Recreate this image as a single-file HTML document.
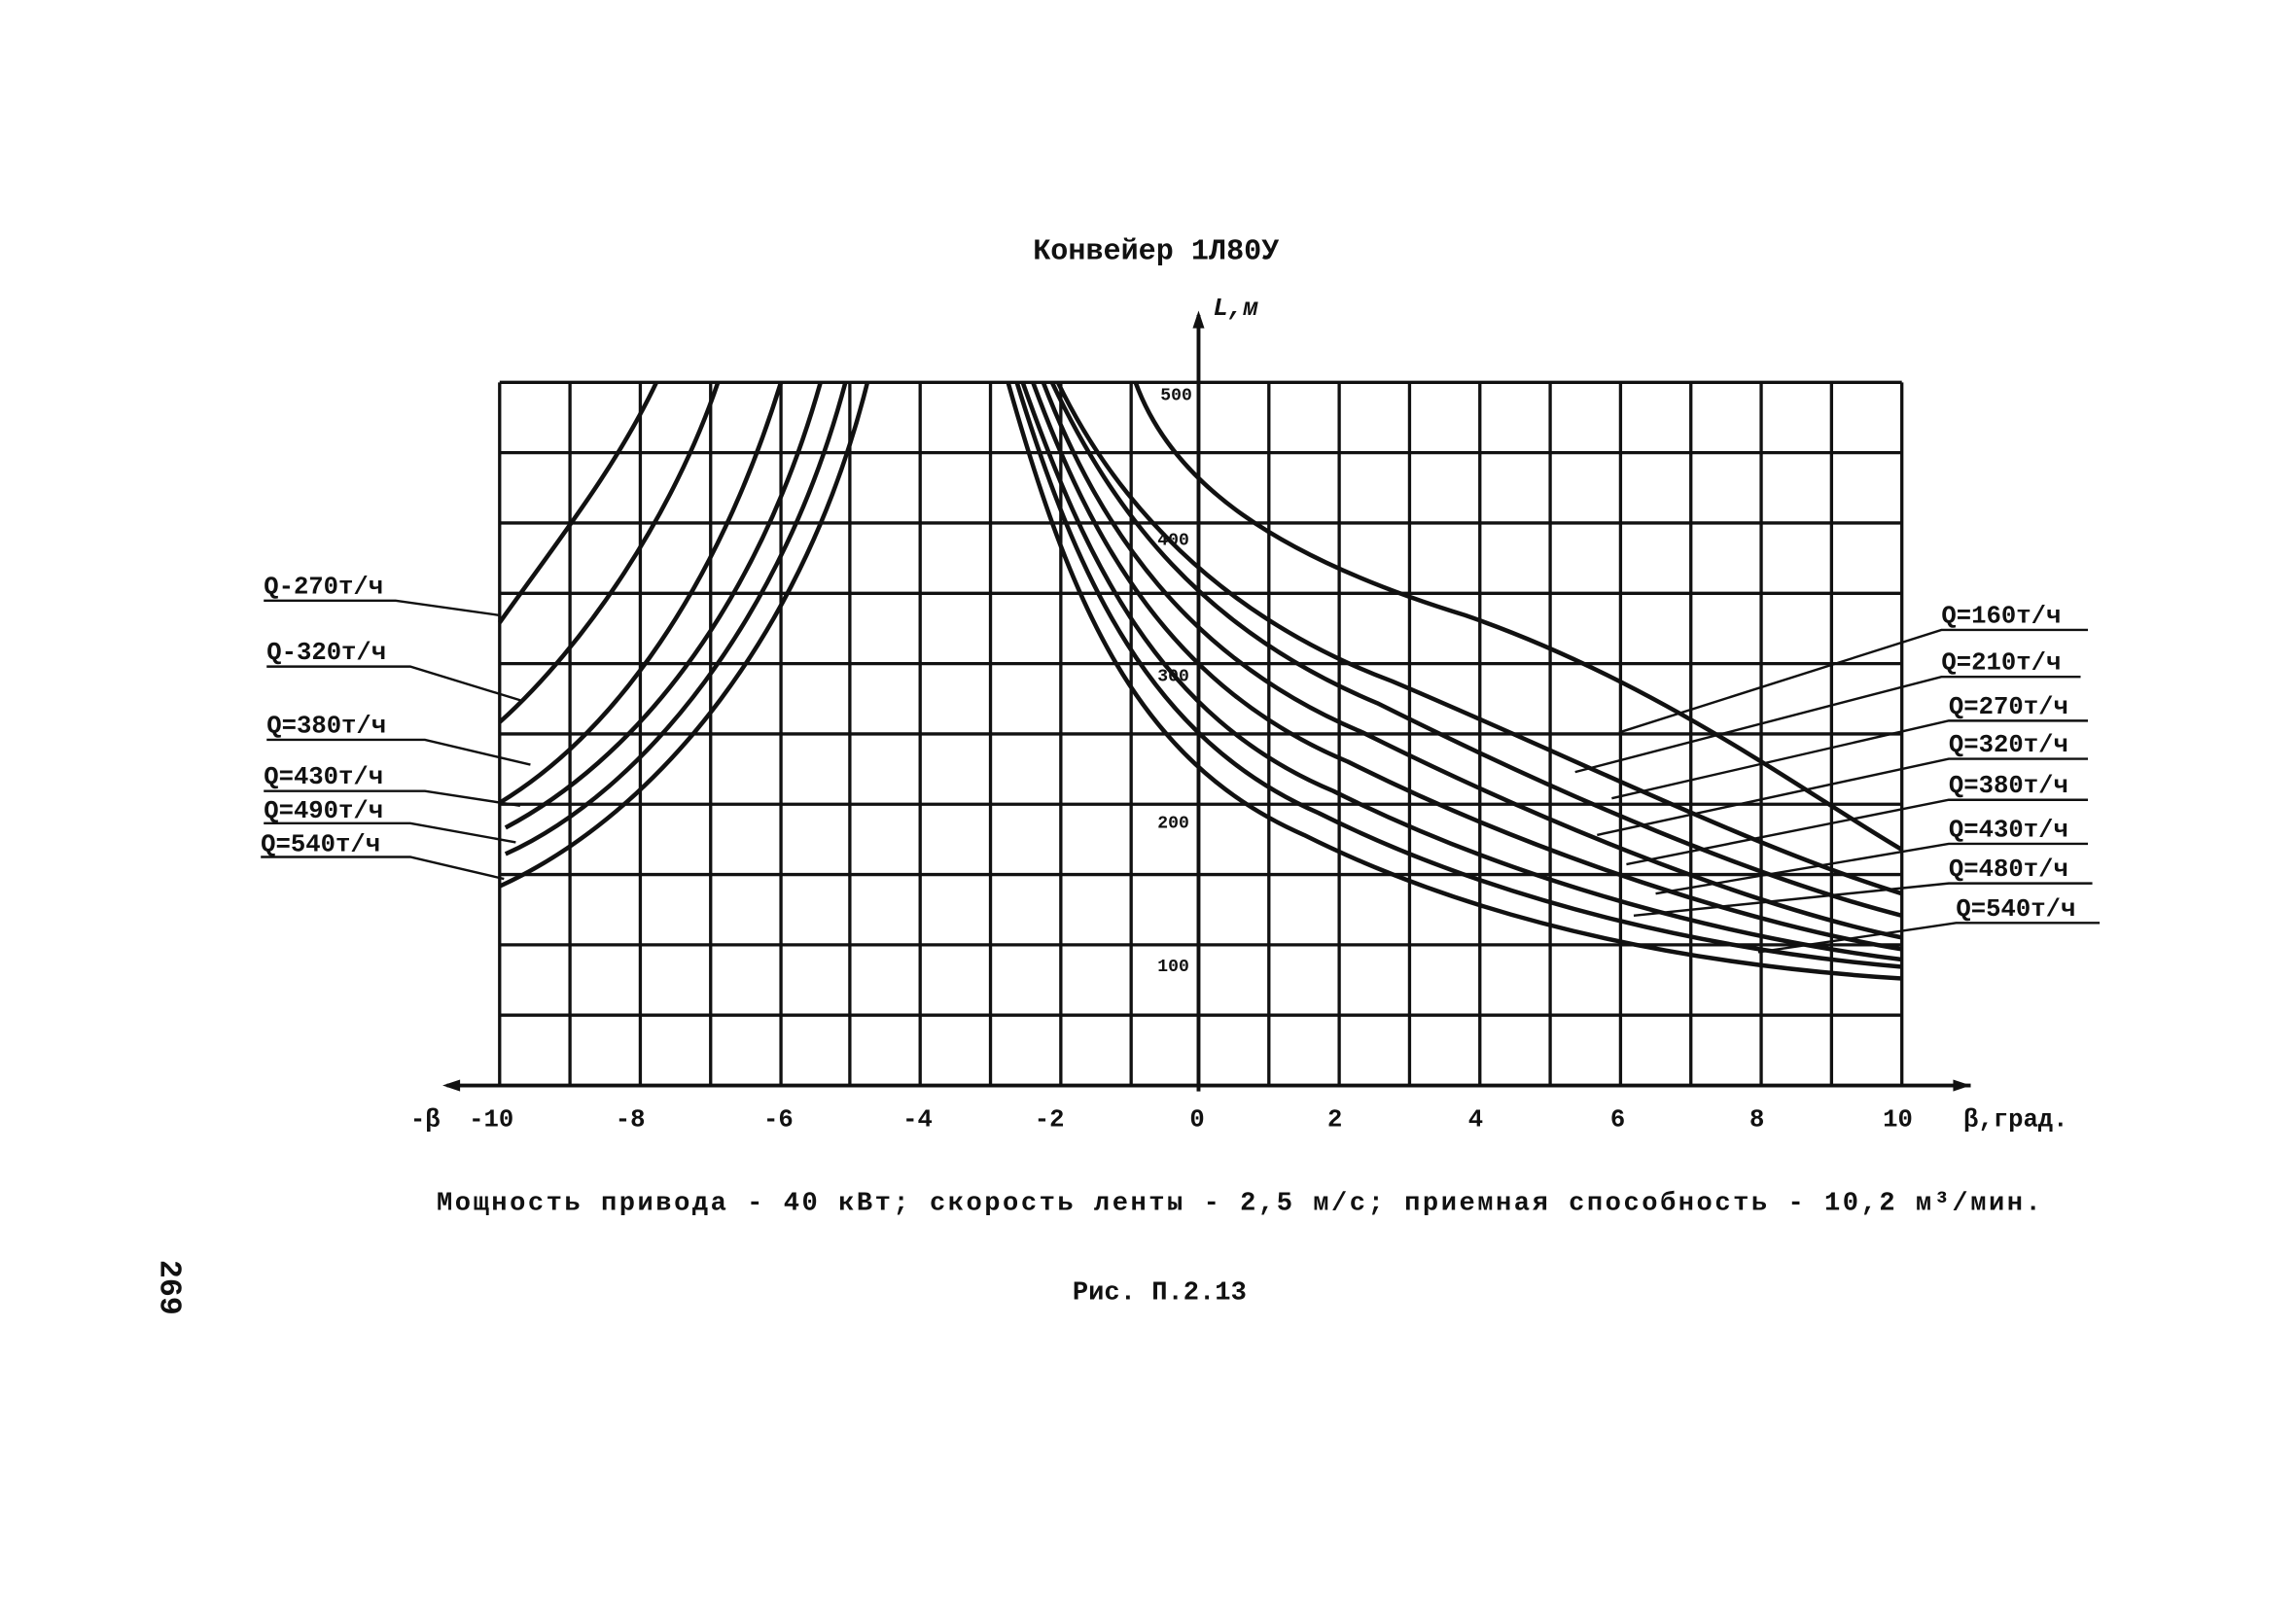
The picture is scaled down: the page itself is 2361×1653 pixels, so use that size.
<!DOCTYPE html>
<html><head><meta charset="utf-8"><style>
html,body{margin:0;padding:0;background:#fff}
svg{display:block}
text{font-family:"Liberation Mono","DejaVu Sans Mono",monospace;font-weight:bold;fill:#111}
</style></head><body>
<svg width="2361" height="1653" viewBox="0 0 1567 1097" xmlns="http://www.w3.org/2000/svg">
<g stroke="#111" stroke-width="2.2" fill="none">
<path d="M341 261V741M389 261V741M437 261V741M485 261V741M533 261V741M580 261V741M628 261V741M676 261V741M724 261V741M772 261V741M866 261V741M914 261V741M962 261V741M1010 261V741M1058 261V741M1106 261V741M1154 261V741M1202 261V741M1250 261V741M1298 261V741"/>
<path d="M341 261H1298M341 309H1298M341 357H1298M341 405H1298M341 453H1298M341 501H1298M341 549H1298M341 597H1298M341 645H1298M341 693H1298"/>
<path d="M305 741H1345M818 745V215" stroke-width="2.6"/>
</g>
<path d="M1345 741l-12 -4v8z M818 212l-4 12h8z M302 741l12 -4v8z" fill="#111"/>
<g stroke="#111" stroke-width="3" fill="none">
<path d="M341 425 C380 370 420 320 448 261"/>
<path d="M341 493 C400 440 460 350 490 261"/>
<path d="M341 548 C420 500 490 400 533 261"/>
<path d="M345 565 C430 520 515 420 560 261"/>
<path d="M345 583 C440 540 535 420 577 261"/>
<path d="M341 605 C450 555 550 430 592 261"/>
<path d="M775 261 C800 330 870 380 1000 420 C1130 465 1230 540 1298 580"/>
<path d="M722 261 C760 340 830 420 950 465 C1080 520 1200 580 1298 610"/>
<path d="M718 261 C760 350 820 430 940 480 C1070 545 1200 600 1298 625"/>
<path d="M712 261 C750 360 810 450 930 500 C1060 565 1200 620 1298 640"/>
<path d="M705 261 C745 370 800 470 920 520 C1050 585 1200 632 1298 648"/>
<path d="M698 261 C740 380 790 490 910 540 C1040 605 1190 642 1298 655"/>
<path d="M694 261 C735 395 785 505 900 555 C1030 620 1180 650 1298 660"/>
<path d="M688 261 C730 410 775 520 890 570 C1020 635 1170 660 1298 668"/>
</g>
<g stroke="#111" stroke-width="1.6" fill="none">
<path d="M180 410H270L341 420"/><path d="M182 455H280L355 478"/><path d="M182 505H290L362 522"/>
<path d="M180 540H290L355 550"/><path d="M180 562H280L352 575"/><path d="M178 585H280L344 600"/>
<path d="M1425 430H1325L1105 500"/><path d="M1420 462H1325L1075 527"/><path d="M1425 492H1330L1100 545"/>
<path d="M1425 518H1330L1090 570"/><path d="M1425 546H1330L1110 590"/><path d="M1425 576H1330L1130 610"/>
<path d="M1428 603H1330L1115 625"/><path d="M1433 630H1335L1200 650"/>
</g>
<text x="705" y="177" font-size="20">Конвейер 1Л80У</text>
<text x="828" y="215" font-size="17" font-style="italic">L,м</text>
<g font-size="12">
<text x="792" y="273">500</text><text x="790" y="372">400</text><text x="790" y="465">300</text><text x="790" y="565">200</text><text x="790" y="663">100</text>
</g>
<g font-size="17">
<text x="280" y="769">-β</text><text x="320" y="769">-10</text><text x="420" y="769">-8</text><text x="521" y="769">-6</text><text x="616" y="769">-4</text><text x="706" y="769">-2</text><text x="812" y="769">0</text><text x="906" y="769">2</text><text x="1002" y="769">4</text><text x="1099" y="769">6</text><text x="1194" y="769">8</text><text x="1285" y="769">10</text><text x="1340" y="769">β,град.</text>
</g>
<g font-size="17">
<text x="180" y="405">Q-270т/ч</text><text x="182" y="450">Q-320т/ч</text><text x="182" y="500">Q=380т/ч</text>
<text x="180" y="535">Q=430т/ч</text><text x="180" y="558">Q=490т/ч</text><text x="178" y="581">Q=540т/ч</text>
<text x="1325" y="425">Q=160т/ч</text><text x="1325" y="457">Q=210т/ч</text><text x="1330" y="487">Q=270т/ч</text>
<text x="1330" y="513">Q=320т/ч</text><text x="1330" y="541">Q=380т/ч</text><text x="1330" y="571">Q=430т/ч</text>
<text x="1330" y="598">Q=480т/ч</text><text x="1335" y="625">Q=540т/ч</text>
</g>
<text x="298" y="826" font-size="18" textLength="1095" lengthAdjust="spacing">Мощность привода - 40 кВт; скорость ленты - 2,5 м/с; приемная способность - 10,2 м³/мин.</text>
<text x="732" y="887" font-size="18">Рис. П.2.13</text>
<text x="0" y="0" font-size="21" transform="translate(110,860) rotate(90)">269</text>
</svg>
</body></html>
